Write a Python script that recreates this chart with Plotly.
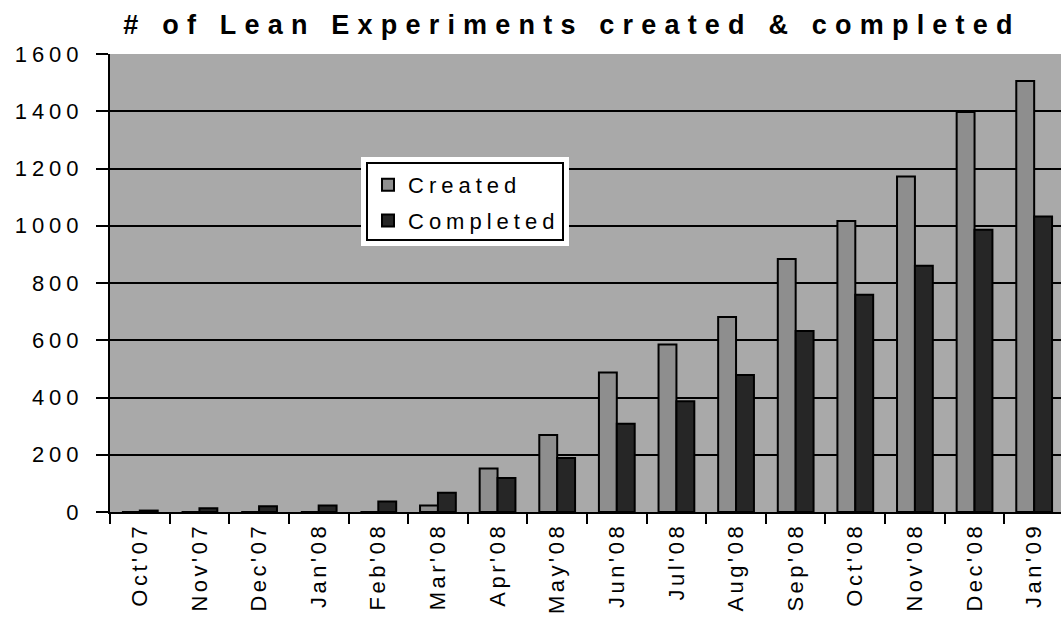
import plotly.graph_objects as go

categories = ["Oct'07", "Nov'07", "Dec'07", "Jan'08", "Feb'08", "Mar'08", "Apr'08", "May'08",
              "Jun'08", "Jul'08", "Aug'08", "Sep'08", "Oct'08", "Nov'08", "Dec'08", "Jan'09"]
created = [0, 0, 0, 0, 0, 23, 152, 269, 487, 585, 681, 884, 1017, 1172, 1397, 1506]
completed = [5, 13, 20, 23, 37, 67, 119, 189, 308, 387, 479, 632, 759, 860, 986, 1032]
y_ticks = [0, 200, 400, 600, 800, 1000, 1200, 1400, 1600]

FONT = "Liberation Sans, Arial, sans-serif"
W, H = 1061, 618
L, R, T, B = 110, 0, 54, 106
PW, PH = W - L - R, H - T - B


def px_x(x):
    return (x - L) / PW


def px_y(y):
    return (H - B - y) / PH


fig = go.Figure()
fig.add_trace(go.Bar(x=categories, y=created, name="Created", legendgroup="a",
                     marker=dict(color="#8e8e8e", line=dict(color="black", width=2))))
fig.add_trace(go.Bar(x=categories, y=completed, name="Completed", legendgroup="b",
                     marker=dict(color="#262626", line=dict(color="black", width=2))))

# legend frame (white halo + black border) drawn as shapes
fig.add_shape(type="rect", xref="paper", yref="paper", layer="above",
              x0=px_x(361), x1=px_x(569), y0=px_y(157), y1=px_y(246),
              fillcolor="white", line=dict(width=0))
fig.add_shape(type="rect", xref="paper", yref="paper", layer="above",
              x0=px_x(367), x1=px_x(563), y0=px_y(163), y1=px_y(240),
              fillcolor="white", line=dict(color="black", width=2))

fig.update_layout(
    width=W, height=H,
    margin=dict(l=L, r=R, t=T, b=B, autoexpand=False),
    paper_bgcolor="white",
    plot_bgcolor="#a9a9a9",
    barmode="group", bargap=0.4, bargroupgap=0,
    font=dict(family=FONT, color="black"),
    title=dict(text="<b># of Lean Experiments created & completed</b>",
               font=dict(size=27, family=FONT, color="black"),
               x=572 / W, xref="container", xanchor="center",
               y=1 - 25 / H, yref="container", yanchor="middle"),
    legend=dict(x=px_x(368), y=px_y(164),
                xanchor="left", yanchor="top",
                bgcolor="rgba(0,0,0,0)", borderwidth=0,
                traceorder="grouped", tracegroupgap=4,
                font=dict(size=22, family=FONT, color="black")),
    showlegend=True,
)
fig.update_xaxes(
    range=[-0.5, 15.45], tickson="boundaries", automargin=False,
    ticks="outside", ticklen=10, tickwidth=2, tickcolor="black",
    tickangle=-90, tickfont=dict(size=22, family=FONT, color="black"),
    showline=True, linecolor="black", linewidth=2,
    showgrid=False, zeroline=False,
)
fig.update_yaxes(
    range=[0, 1600], tickvals=y_ticks, automargin=False,
    ticks="outside", ticklen=12, tickwidth=2, tickcolor="black",
    ticklabelstandoff=8,
    tickfont=dict(size=22, family=FONT, color="black"),
    showline=True, linecolor="black", linewidth=2,
    showgrid=True, gridcolor="black", gridwidth=2,
    zeroline=False,
)

post = """
var st=document.createElement('style');
st.textContent='body{margin:0} .gtitle{letter-spacing:8.2px} .ytick text{letter-spacing:5px} .xtick text{letter-spacing:3.5px} .legendtext{letter-spacing:5px}';
document.head.appendChild(st);
var gd=document.getElementById('{plot_id}');
Plotly.relayout(gd, {'legend.font.family': 'Liberation Sans, Arial', 'title.font.family': 'Liberation Sans, Arial'});
"""
fig.write_html("out.html", post_script=post, config={"displayModeBar": False})
